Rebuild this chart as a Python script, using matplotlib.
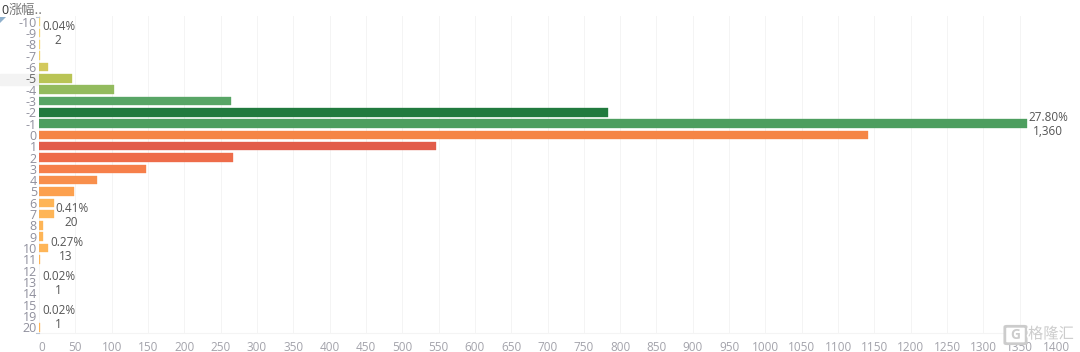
import matplotlib
matplotlib.use('Agg')
import matplotlib.pyplot as plt
import matplotlib.patheffects as pe
from matplotlib.lines import Line2D
from matplotlib.patches import Rectangle, Polygon, FancyBboxPatch
from matplotlib.transforms import ScaledTranslation

plt.rcParams['font.family'] = ['Open Sans', 'Noto Sans CJK SC', 'DejaVu Sans']

# 數據
categories = ['-10', '-9', '-8', '-7', '-6', '-5', '-4', '-3', '-2', '-1', '0', '1', '2', '3',
              '4', '5', '6', '7', '8', '9', '10', '11', '12', '13', '14', '15', '19', '20']
counts = [2, 2, 1, 2, 13, 46, 103, 264, 783, 1360, 1141, 546, 267, 147,
          80, 48, 20, 20, 6, 6, 13, 1, 0, 0, 0, 0, 0, 1]
colors = ['#f7d774', '#f7d774', '#f7d774', '#f3d26c', '#d3c95d', '#b9c455', '#93bb5e', '#58a566',
          '#217a3e', '#4d9e5f', '#f58545', '#e25c4a', '#ee6c4a', '#f67f4a',
          '#f88f4c', '#fca04e', '#feb557', '#feb557', '#feb557', '#feb557', '#feb557', '#feb557',
          '#feb557', '#feb557', '#feb557', '#feb557', '#feb557', '#feb557']
xticks = list(range(0, 1401, 50))

label_rows = ['-9', '-1', '7', '10', '13', '19']
label_pcts = ['0.04%', '27.80%', '0.41%', '0.27%', '0.02%', '0.02%']
label_vals = ['2', '1,360', '20', '13', '1', '1']

W, H = 1080, 352
fig = plt.figure(figsize=(W / 100, H / 100), dpi=100)
ax = fig.add_axes([39 / W, 1 - 333 / H, (1056 - 39) / W, (333 - 16) / H])

ypos = list(range(len(categories)))
edges = [col if c > 0 else 'none' for col, c in zip(colors, counts)]
ax.barh(ypos, counts, height=0.76, color=colors, edgecolor=edges, linewidth=0.25, zorder=3)
ax.set_xlim(0, 1400)
ax.set_ylim(len(categories) - 1 + 0.5, -0.5)

ax.set_yticks(ypos)
ax.set_yticklabels(categories, fontsize=9, color='#8f8f9c')
ax.get_yticklabels()[categories.index('-5')].set_color('#666666')
ax.set_xticks(xticks)
ax.set_xticklabels([str(t) for t in xticks], fontsize=8.5, color='#a3a3ab')
ax.tick_params(axis='both', length=0)
ax.tick_params(axis='x', pad=5.5)
ax.tick_params(axis='y', pad=1.5)
ax.xaxis.grid(True, color='#f4f4f4', lw=0.7, zorder=0)
ax.set_axisbelow(True)
for s in ['top', 'right', 'left']:
    ax.spines[s].set_visible(False)
ax.spines['bottom'].set_color('#f4f4f4')

# 0 的刻度標籤略向右
first = ax.get_xticklabels()[0]
first.set_transform(first.get_transform() + ScaledTranslation(3 / 100, 0, fig.dpi_scale_trans))

# 標註
for row, pct, val in zip(label_rows, label_pcts, label_vals):
    i = categories.index(row)
    c = counts[i]
    left = 1.5 if c > 0 else 3
    ax.annotate(pct, (c, i), xytext=(left, 6), textcoords='offset pixels', ha='left', va='center',
                fontsize=8.5, color='#555555', annotation_clip=False, zorder=5)
    # 數值置於百分比下方置中
    w = 38 if pct == '27.80%' else 32
    ax.annotate(val, (c, i), xytext=(left + w / 2, -8), textcoords='offset pixels', ha='center', va='center',
                fontsize=8.5, color='#555555', annotation_clip=False, zorder=5)

# 其他元素
fig.add_artist(Rectangle((0, 1 - 85 / H), 38 / W, 11 / H, transform=fig.transFigure, color='#f3f3f3', zorder=0))
fig.add_artist(Polygon([(0, 1 - 17 / H), (6 / W, 1 - 17 / H), (0, 1 - 23 / H)], transform=fig.transFigure,
                       color='#8fb0cc', lw=0))
for yy in (17, 333):
    fig.add_artist(Line2D([36 / W, 38.5 / W], [1 - yy / H, 1 - yy / H], color='#b8c4d4', lw=0.8))
fig.text(1 / W, 1 - 10 / H, '0', fontsize=9, color='#333333', va='center')
fig.text(8.5 / W, 1 - 10 / H, '涨幅..', fontsize=9.5, family=['Noto Sans CJK SC', 'DejaVu Sans'],
         color='#777777', va='center')

# 水印
halo = [pe.withStroke(linewidth=2.5, foreground='white')]
fig.add_artist(FancyBboxPatch((1007 / W, 1 - 343 / H), 17 / W, 16 / H, boxstyle='round,pad=0.002',
                              transform=fig.transFigure, fc='white', ec='#cccccc', lw=2, zorder=6))
fig.text(1015.5 / W, 1 - 335 / H, 'G', fontsize=10, color='#cccccc', ha='center', va='center', fontweight='bold', zorder=7)
fig.text(1028 / W, 1 - 335 / H, '格隆汇', fontsize=11, color='#cccccc', va='center', zorder=7, path_effects=halo)

fig.savefig('out.png', dpi=100)
